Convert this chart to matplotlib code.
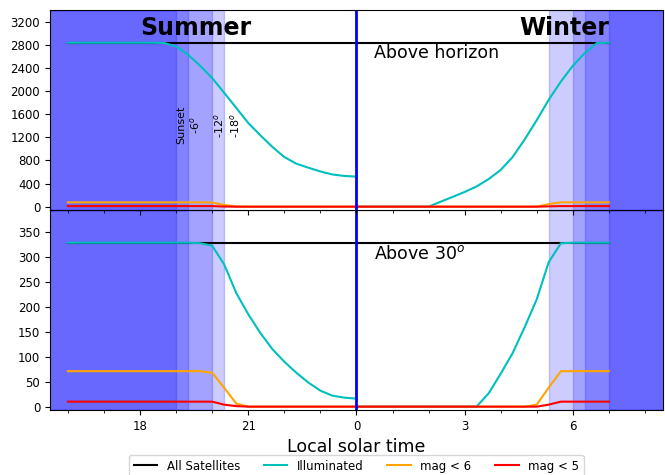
import matplotlib
matplotlib.use("Agg")
import matplotlib.pyplot as plt
import numpy as np

# --- data: hours relative to local midnight ---
t_summer = [-8, -7, -6, -5.67, -5.33, -5, -4.67, -4.33, -4, -3.67, -3.33,
            -3, -2.67, -2.33, -2, -1.67, -1.33, -1, -0.67, -0.33, 0]
t_winter = [0, 0.33, 0.67, 1, 1.33, 1.67, 2, 2.33, 2.67, 3, 3.33, 3.67,
            4, 4.33, 4.67, 5, 5.33, 5.67, 6, 6.33, 6.67, 7]

# Above horizon (top panel)
hor_all_s = [2840] * 21
hor_ill_s = [2840, 2840, 2840, 2840, 2836, 2776, 2632, 2440, 2228, 1975, 1710,
             1450, 1240, 1035, 860, 745, 675, 610, 558, 532, 521]
hor_m6_s = [75, 75, 75, 75, 75, 75, 75, 75, 72, 30, 3,
            0, 0, 0, 0, 0, 0, 0, 0, 0, 0]
hor_m5_s = [10, 10, 10, 10, 10, 10, 10, 10, 10, 2, 0,
            0, 0, 0, 0, 0, 0, 0, 0, 0, 0]
hor_all_w = [2840] * 22
hor_ill_w = [0, 0, 0, 0, 0, 0, 0, 85, 170, 255, 350, 480,
             637, 860, 1170, 1500, 1851, 2169, 2441, 2661, 2835, 2840]
hor_m6_w = [0, 0, 0, 0, 0, 0, 0, 0, 0, 0, 0, 0,
            0, 0, 0, 0, 45, 75, 75, 75, 75, 75]
hor_m5_w = [0, 0, 0, 0, 0, 0, 0, 0, 0, 0, 0, 0,
            0, 0, 0, 0, 5, 10, 10, 10, 10, 10]

# Above 30 deg (bottom panel)
a30_all_s = [328] * 21
a30_ill_s = [328, 328, 328, 328, 328, 328, 328, 327, 322, 285, 227,
             185, 148, 115, 90, 68, 48, 32, 22, 18, 16]
a30_m6_s = [71, 71, 71, 71, 71, 71, 71, 71, 68, 38, 6,
            0, 0, 0, 0, 0, 0, 0, 0, 0, 0]
a30_m5_s = [10, 10, 10, 10, 10, 10, 10, 10, 10, 4, 1,
            0, 0, 0, 0, 0, 0, 0, 0, 0, 0]
a30_all_w = [328] * 22
a30_ill_w = [0, 0, 0, 0, 0, 0, 0, 0, 0, 0, 0, 27,
             66, 107, 160, 215, 289, 327, 328, 328, 328, 328]
a30_m6_w = [0, 0, 0, 0, 0, 0, 0, 0, 0, 0, 0, 0,
            0, 0, 0, 4, 38, 71, 71, 71, 71, 71]
a30_m5_w = [0, 0, 0, 0, 0, 0, 0, 0, 0, 0, 0, 0,
            0, 0, 0, 0, 4, 10, 10, 10, 10, 10]

# twilight boundaries (hours): sunset, -6, -12, -18 / -18, -12, -6, sunrise
twi_summer = [-5.0, -4.67, -4.0, -3.67]
twi_winter = [5.33, 6.0, 6.33, 7.0]

xticks = [-6, -3, 0, 3, 6]
xticklabels = ["18", "21", "0", "3", "6"]
minor_ticks = [-8, -7, -6, -5, -4, -3, -2, -1, 0, 1, 2, 3, 4, 5, 6, 7, 8]

series_names = ["All Satellites", "Illuminated", "mag < 6", "mag < 5"]
colors = ["k", "c", "orange", "r"]

fig = plt.figure(figsize=(6.65, 4.75), dpi=100)
ax1 = fig.add_axes([0.075, 0.137, 0.922, 0.421])
ax0 = fig.add_axes([0.075, 0.558, 0.922, 0.421], sharex=ax1)

panels = [
    (ax0, [hor_all_s, hor_ill_s, hor_m6_s, hor_m5_s],
     [hor_all_w, hor_ill_w, hor_m6_w, hor_m5_w]),
    (ax1, [a30_all_s, a30_ill_s, a30_m6_s, a30_m5_s],
     [a30_all_w, a30_ill_w, a30_m6_w, a30_m5_w]),
]

for ax, s_data, w_data in panels:
    for b in twi_summer:
        ax.axvspan(-20, b, color="b", alpha=0.2)
    for b in twi_winter:
        ax.axvspan(b, 20, color="b", alpha=0.2)
    for name, col, ys, yw in zip(series_names, colors, s_data, w_data):
        ax.plot(t_summer, ys, color=col, lw=1.5, label=name)
        ax.plot(t_winter, yw, color=col, lw=1.5)
    ax.axvline(0, color="b", lw=2)
    mx = max(s_data[0])
    ax.set_ylim(-0.02 * mx, 1.2 * mx)
    ax.tick_params(labelsize=8.5)

ax0.set_yticks(np.arange(0, 3201, 400))
ax1.set_yticks(np.arange(0, 351, 50))

ax1.set_xlim(-8.5, 8.5)
ax1.set_xticks(xticks)
ax1.set_xticklabels(xticklabels)
ax1.set_xticks(minor_ticks, minor=True)
plt.setp(ax0.get_xticklabels(), visible=False)
ax1.set_xlabel("Local solar time", fontsize=12.5)

ax0.text(-6.0, 2980, "Summer", fontsize=17, fontweight="bold", ha="left", va="baseline")
ax0.text(7.0, 2980, "Winter", fontsize=17, fontweight="bold", ha="right", va="baseline")
ax0.text(0.5, 2570, "Above horizon", fontsize=12.5, va="baseline")
ax1.text(0.5, 296, r"Above 30$^o$", fontsize=12.5, va="baseline")

ax0.text(twi_summer[0], 1410, "Sunset\n-6$^o$", rotation=90, fontsize=8,
         ha="left", va="center", multialignment="center")
ax0.text(twi_summer[2], 1410, "-12$^o$\n-18$^o$", rotation=90, fontsize=8,
         ha="left", va="center", multialignment="center")

ax1.legend(loc="upper center", bbox_to_anchor=(0.5, -0.195), ncol=4, fontsize=8.5)

fig.savefig("out.png", dpi=100)
